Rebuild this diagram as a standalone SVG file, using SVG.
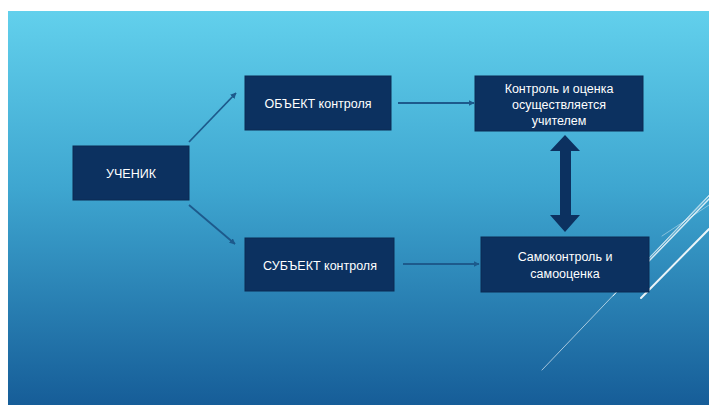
<svg xmlns="http://www.w3.org/2000/svg" width="709" height="405" viewBox="0 0 709 405">
<defs>
<linearGradient id="bg" x1="0" y1="0" x2="0" y2="1">
<stop offset="0" stop-color="#62d0ec"/>
<stop offset="0.45" stop-color="#3ea6d0"/>
<stop offset="1" stop-color="#165d98"/>
</linearGradient>
<marker id="ah" viewBox="0 0 10 10" refX="9" refY="5" markerWidth="6" markerHeight="6" markerUnits="userSpaceOnUse" orient="auto">
<path d="M0,0 L10,5 L0,10 z" fill="#1d5a8c"/>
</marker>
<style>
.box{fill:#0c3160;stroke:#0a2a52;stroke-width:1}
.t{font-family:"Liberation Sans","DejaVu Sans",sans-serif;font-size:12.5px;fill:#ffffff;text-anchor:middle}
.c{stroke:#1d5a8c;stroke-width:1.8;fill:none;marker-end:url(#ah)}
.deco{stroke:#ffffff;fill:none;stroke-linecap:round}
</style>
</defs>
<rect x="0" y="0" width="709" height="405" fill="#ffffff"/>
<rect x="8" y="11" width="701" height="394" fill="url(#bg)"/>
<g id="decoration">
<line class="deco" x1="542" y1="370" x2="709" y2="195" stroke-width="1" opacity="0.6"/>
<line class="deco" x1="613" y1="296" x2="709" y2="196" stroke-width="1" opacity="0.7"/>
<line class="deco" x1="648" y1="262" x2="709" y2="199" stroke-width="1.5" opacity="0.8"/>
<line class="deco" x1="641" y1="298" x2="709" y2="229" stroke-width="2" opacity="0.9"/>
<line class="deco" x1="662" y1="236" x2="709" y2="205" stroke-width="0.8" opacity="0.5"/>
</g>
<g id="connectors">
<line class="c" x1="189" y1="142" x2="236" y2="93"/>
<line class="c" x1="189" y1="205" x2="235" y2="244"/>
<line class="c" x1="398" y1="103" x2="474" y2="103"/>
<line class="c" x1="403" y1="264" x2="479" y2="264"/>
<path d="M565,135 L580,151 L571,151 L571,215 L580,215 L565,232 L550,215 L560,215 L560,151 L550,151 z" fill="#0c3160"/>
</g>
<g id="uchenik">
<rect class="box" x="73" y="146" width="116" height="54"/>
<text class="t" x="131" y="178">УЧЕНИК</text>
</g>
<g id="obekt">
<rect class="box" x="245" y="76" width="146" height="54"/>
<text class="t" x="318" y="108">ОБЪЕКТ контроля</text>
</g>
<g id="subekt">
<rect class="box" x="245" y="238" width="149" height="53"/>
<text class="t" x="320" y="270">СУБЪЕКТ контроля</text>
</g>
<g id="kontrol">
<rect class="box" x="475" y="76" width="168" height="55"/>
<text class="t" x="559" y="93">Контроль и оценка</text>
<text class="t" x="559" y="109">осуществляется</text>
<text class="t" x="559" y="125">учителем</text>
</g>
<g id="samokontrol">
<rect class="box" x="481" y="237" width="168" height="55"/>
<text class="t" x="565" y="261">Самоконтроль и</text>
<text class="t" x="565" y="278">самооценка</text>
</g>
</svg>
